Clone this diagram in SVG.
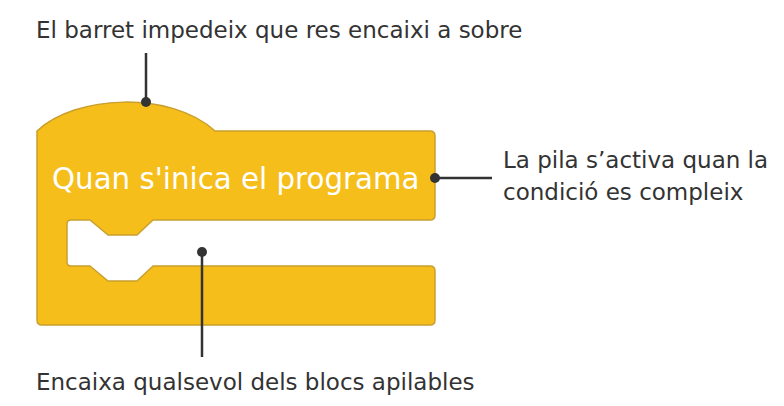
<svg xmlns="http://www.w3.org/2000/svg" width="784" height="406" viewBox="0 0 784 406">
<style>
.lbl{font-family:"DejaVu Sans",Roboto,sans-serif;font-size:23px;fill:#333;}
.blk{fill:#f5be1a;stroke:#c99f2e;stroke-width:1.5;stroke-linejoin:round;}
.blktext{font-family:"DejaVu Sans",Roboto,sans-serif;font-size:29.3px;fill:#fff;}
.con{stroke:#333;stroke-width:2.5;fill:none;}
.dot{fill:#333;}
</style>
<rect width="784" height="406" fill="#fff"/>
<g id="block">
<path class="blk" d="M37,131 C75,95 170,90 215,131 L430,131 Q435,131 435,136 L435,215 Q435,220 430,220 L153,220 L137,235 L108,235 L90,220 L71,220 Q67,220 67,224 L67,262 Q67,266 71,266 L90,266 L108,281 L137,281 L153,266 L430,266 Q435,266 435,271 L435,320 Q435,325 430,325 L42,325 Q37,325 37,320 Z"/>
<text class="blktext" x="52" y="189">Quan s'inica el programa</text>
</g>
<g id="connectors">
<line class="con" x1="146" y1="53" x2="146" y2="102"/>
<circle class="dot" cx="146" cy="102" r="5"/>
<line class="con" x1="435" y1="178" x2="492" y2="178"/>
<circle class="dot" cx="435" cy="178" r="5"/>
<line class="con" x1="202" y1="252" x2="202" y2="357"/>
<circle class="dot" cx="202" cy="252" r="5"/>
</g>
<g id="label-top"><text class="lbl" x="36" y="38">El barret impedeix que res encaixi a sobre</text></g>
<g id="label-right"><text class="lbl" x="503" y="168">La pila s’activa quan la</text><text class="lbl" x="503" y="200">condició es compleix</text></g>
<g id="label-bottom"><text class="lbl" x="36" y="390">Encaixa qualsevol dels blocs apilables</text></g>
</svg>
